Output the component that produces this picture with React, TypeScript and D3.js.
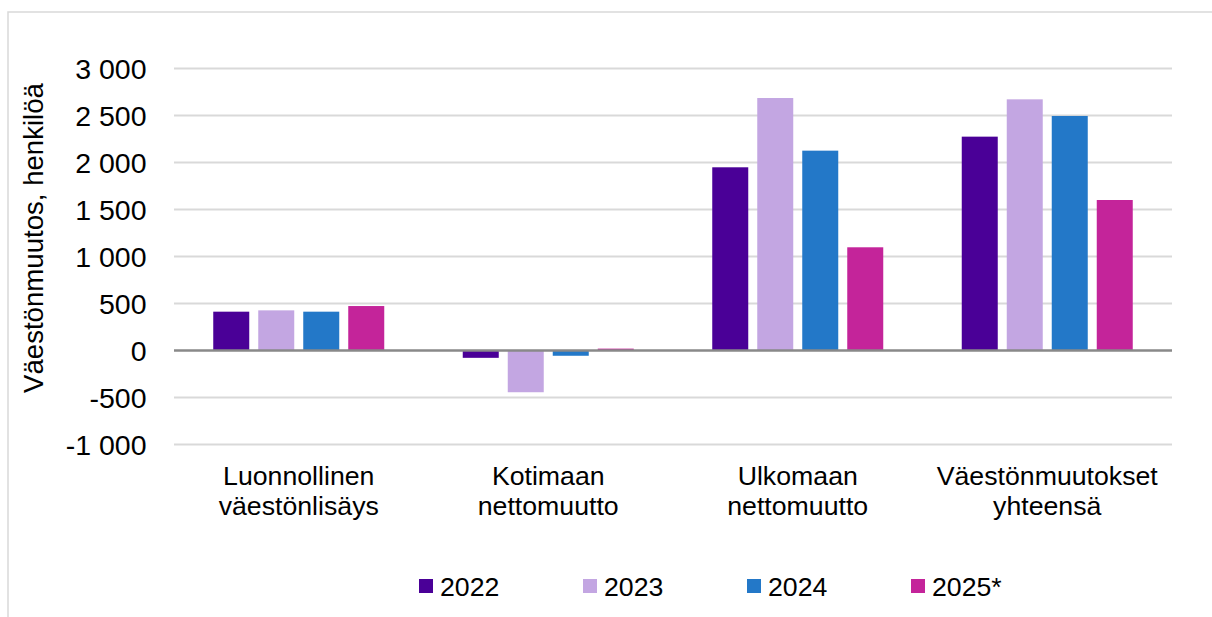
import React from "react";
import * as d3 from "d3";

const categories: string[][] = [
  ["Luonnollinen", "väestönlisäys"],
  ["Kotimaan", "nettomuutto"],
  ["Ulkomaan", "nettomuutto"],
  ["Väestönmuutokset", "yhteensä"],
];
const seriesNames = ["2022", "2023", "2024", "2025*"];
const values2022 = [413, -78, 1949, 2275];
const values2023 = [427, -444, 2686, 2672];
const values2024 = [413, -56, 2126, 2495];
const values2025 = [473, 20, 1098, 1601];
const seriesValues = [values2022, values2023, values2024, values2025];
const colors = ["#4A0097", "#C3A6E2", "#2378C8", "#C4249A"];
const yTicks = [-1000, -500, 0, 500, 1000, 1500, 2000, 2500, 3000];
const yTitle = "Väestönmuutos, henkilöä";

const fmt = (v: number) => {
  const s = Math.abs(v).toString().replace(/\B(?=(\d{3})+(?!\d))/g, " ");
  return (v < 0 ? "-" : "") + s;
};

export default function App() {
  const W = 1212, H = 617;
  const left = 174, right = 1172;
  const y = d3.scaleLinear().domain([-1000, 3000]).range([444.5, 68.5]);
  const x = d3.scaleBand<number>().domain(categories.map((_, i) => i)).range([left, right]).padding(0);
  const groupW = 180;
  const xs = d3.scaleBand<number>().domain(seriesNames.map((_, i) => i)).range([0, groupW]).paddingInner(0.2).paddingOuter(0.1);
  const font = "Arial, 'Liberation Sans', sans-serif";

  return (
    <svg width={W} height={H} style={{ position: "absolute", left: 0, top: 0, background: "#fff" }} fontFamily={font}>
      <rect x={8} y={12} width={W + 20} height={H + 20} fill="#fff" stroke="#d9d9d9" strokeWidth={1.5} />
      {yTicks.map((t) => (
        <g key={t}>
          {t !== 0 && <line x1={left} x2={right} y1={y(t)} y2={y(t)} stroke="#d9d9d9" strokeWidth={2} />}
          <text x={146.5} y={y(t)} dy="0.36em" textAnchor="end" fontSize={28.5} fill="#000">{fmt(t)}</text>
        </g>
      ))}
      {categories.map((_, ci) => {
        const gx = (x(ci) as number) + x.bandwidth() / 2 - groupW / 2;
        return seriesValues.map((vals, si) => {
          const v = vals[ci];
          const y0 = y(Math.max(0, v));
          const h = Math.abs(y(v) - y(0));
          return (
            <rect key={`${ci}-${si}`} x={gx + (xs(si) as number)} y={y0} width={xs.bandwidth()} height={h} fill={colors[si]} />
          );
        });
      })}
      <line x1={left} x2={right} y1={y(0)} y2={y(0)} stroke="#898989" strokeWidth={2.5} />
      {categories.map((lines, ci) => {
        const cx = (x(ci) as number) + x.bandwidth() / 2;
        return (
          <text key={ci} textAnchor="middle" fontSize={26.7} fill="#000">
            {lines.map((l, li) => (
              <tspan key={li} x={cx} y={485 + li * 30}>{l}</tspan>
            ))}
          </text>
        );
      })}
      <text transform={`translate(43,238) rotate(-90)`} textAnchor="middle" fontSize={27.6} fill="#000">{yTitle}</text>
      {seriesNames.map((n, i) => (
        <g key={n} transform={`translate(${419 + i * 164},0)`}>
          <rect x={0} y={579} width={14} height={14} fill={colors[i]} />
          <text x={21} y={596} fontSize={26.7} fill="#000">{n}</text>
        </g>
      ))}
    </svg>
  );
}
